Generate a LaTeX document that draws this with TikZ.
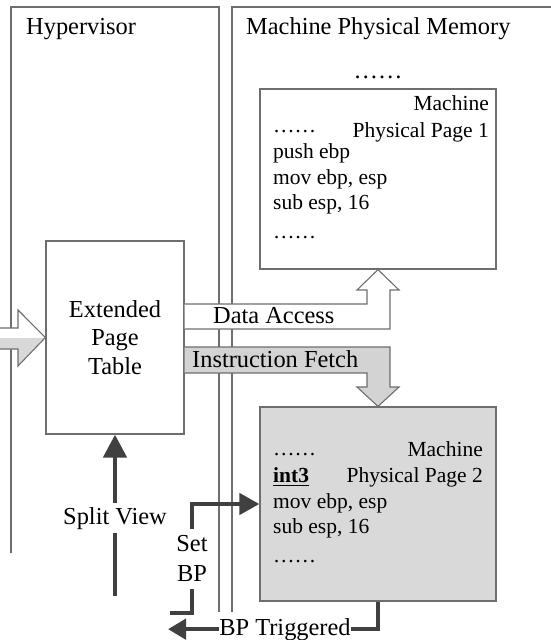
\documentclass[tikz,border=0pt]{standalone}
\usepackage{fontspec}
\setmainfont{Liberation Serif}
\usetikzlibrary{arrows.meta}

\definecolor{frame}{HTML}{6E6E6E}
\definecolor{darkarrow}{HTML}{404040}
\definecolor{pagefill}{HTML}{D9D9D9}
\definecolor{fetchfill}{HTML}{D3D3D3}
\definecolor{infill}{HTML}{D8D8D8}

\newcommand\mainsz{\fontsize{24.4}{28.5}\selectfont}
\newcommand\twolinesz{\fontsize{24.4}{30}\selectfont}
\newcommand\codesz{\fontsize{21.5}{26}\selectfont}

\tikzset{
  frameline/.style={draw=frame, line width=1.2pt},
  blockarrow/.style={draw=frame, line width=1.1pt, line join=miter},
  darkline/.style={draw=darkarrow, line width=4.5pt, line join=miter},
  lbl/.style={font=\mainsz, inner sep=0pt},
  code/.style={font=\codesz, inner sep=0pt, anchor=base west},
  coderight/.style={font=\codesz, inner sep=0pt, anchor=base east},
  bighead/.style={-{Triangle[length=23pt, width=23pt]}},
  midhead/.style={-{Triangle[length=20pt, width=21pt]}},
}

\begin{document}
\begin{tikzpicture}[x=1pt, y=-1pt]
\useasboundingbox (0,0) rectangle (550,640);

% outer regions
\draw[frameline] (11,553) -- (11,7) -- (219,7) -- (219,612);
\draw[frameline] (232,612) -- (232,7) -- (556,7);
\node[lbl, anchor=base west] (hyp) at (26,34) {Hypervisor};
\node[lbl, anchor=base west] (mpm) at (246,34) {Machine Physical Memory};
\node[lbl, anchor=base] (topdots) at (378,78) {……};

% machine physical page 1
\node[frameline, fill=white, minimum width=236pt, minimum height=180pt, inner sep=0pt] (page1) at (378,179) {};
\node[coderight] (p1a) at (489,110.5) {Machine};
\node[coderight] (p1b) at (489,137) {Physical Page 1};
\node[code] (p1c) at (273,132.5) {……};
\node[code] (p1d) at (273,158) {push ebp};
\node[code] (p1e) at (273,184) {mov ebp, esp};
\node[code] (p1f) at (273,209) {sub esp, 16};
\node[code] (p1g) at (273,238.5) {……};

% machine physical page 2
\node[frameline, fill=pagefill, minimum width=236pt, minimum height=194pt, inner sep=0pt] (page2) at (378,504) {};
\node[code] (p2a) at (273,455.7) {……};
\node[coderight] (p2b) at (483,456.7) {Machine};
\node[code] (int3) at (273,482.7) {\textbf{int3}};
\draw[line width=1.3pt] ([yshift=-2.6pt]int3.base west) -- ([yshift=-2.6pt]int3.base east);
\node[coderight] (p2c) at (483,482.7) {Physical Page 2};
\node[code] (p2d) at (273,508.5) {mov ebp, esp};
\node[code] (p2e) at (273,533.5) {sub esp, 16};
\node[code] (p2f) at (273,562.5) {……};

% extended page table
\node[frameline, fill=white, minimum width=138pt, minimum height=193pt, inner sep=0pt,
      align=center, font=\mainsz] (ept) at (115,337.5) {Extended\\Page\\Table};

% incoming block arrow (white upper half, grey lower half)
\fill[white] (-5,328) -- (18,328) -- (18,310) -- (ept.west) -- (18,366) -- (18,349) -- (-5,349) -- cycle;
\begin{scope}
  \clip (-10,338) rectangle (60,380);
  \fill[infill] (-5,328) -- (18,328) -- (18,310) -- (ept.west) -- (18,366) -- (18,349) -- (-5,349) -- cycle;
\end{scope}
\draw[blockarrow] (-5,328) -- (18,328) -- (18,310) -- (ept.west) -- (18,366) -- (18,349) -- (-5,349);

% data access: hollow block arrow up into page 1
\draw[blockarrow, fill=white] (ept.east |- 0,304) -- (367,304) -- (367,290) -- (357,290)
  -- (page1.south) -- (399,290) -- (390,290) -- (390,329) -- (ept.east |- 0,329);
\node[lbl, anchor=base west] (data) at (213,323) {Data Access};

% instruction fetch: grey block arrow down into page 2
\draw[blockarrow, fill=fetchfill] (ept.east |- 0,347) -- (390,347) -- (390,387) -- (399,387)
  -- (page2.north) -- (357,387) -- (367,387) -- (367,373) -- (ept.east |- 0,373);
\node[lbl, anchor=base west] (fetch) at (192,367) {Instruction Fetch};

% split view
\node[lbl, inner ysep=4pt, anchor=base] (split) at (115,524) {Split View};
\coordinate (splitfoot) at (115,596);
\draw[darkline] (splitfoot) -- (split.south);
\draw[darkline, bighead] (split.north) -- (ept.south);

% set breakpoint
\node[lbl, align=center, font=\twolinesz, inner ysep=6.5pt] (setbp) at (192,558.8) {Set\\BP};
\coordinate (setbpfoot) at (170,613);
\draw[darkline, midhead] (setbp.north) |- (page2.west);
\draw[darkline] (setbp.south) |- (setbpfoot);

% breakpoint triggered
\node[lbl, anchor=base, inner xsep=0.5pt] (bpt) at (285,635) {BP Triggered};
\coordinate (bptip) at (168,628);
\draw[darkline] (page2.south) |- (bpt.east);
\draw[darkline, {-Triangle[length=18pt, width=20pt]}] (bpt.west) -- (bpt.west -| bptip);
\end{tikzpicture}
\end{document}
